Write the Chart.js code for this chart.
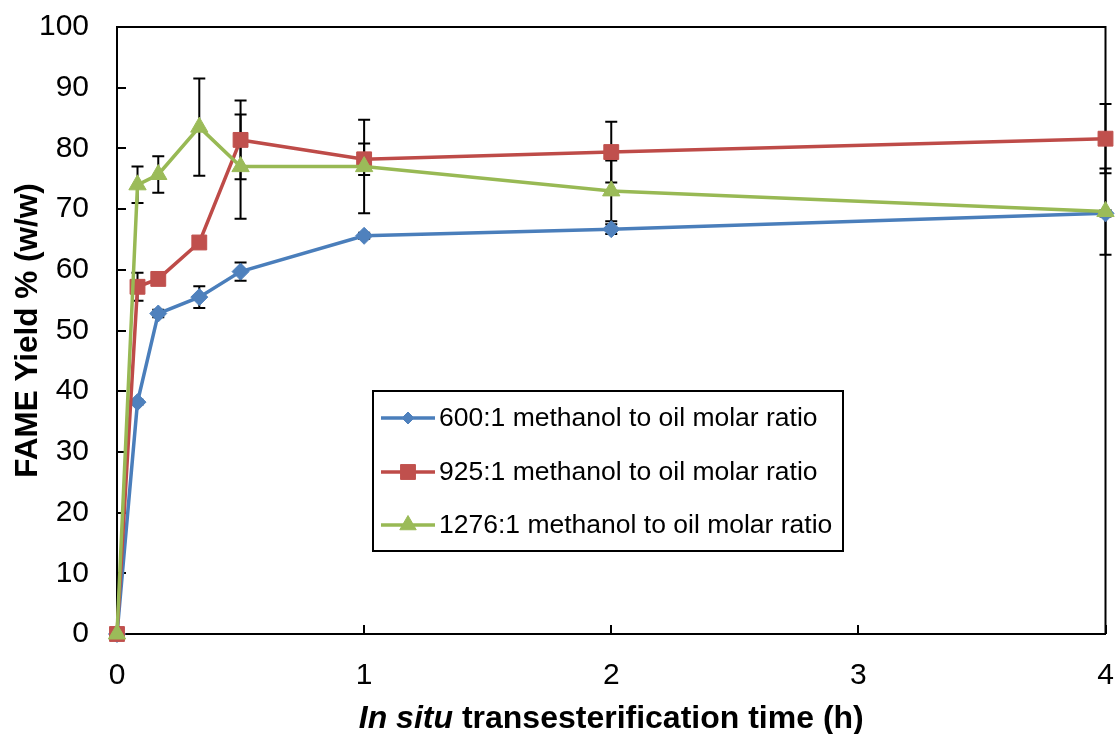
<!DOCTYPE html>
<html>
<head>
<meta charset="utf-8">
<script src="https://cdn.jsdelivr.net/npm/chart.js@4/dist/chart.umd.min.js"></script>
<style>
  html, body { margin: 0; padding: 0; background: #ffffff; }
  #wrap { width: 1117px; height: 734px; }
</style>
</head>
<body>
<div id="wrap"><canvas id="c" width="1117" height="734"></canvas></div>
<script>
// Reaction time (h) at which samples were taken
const timeHours = [0, 0.083, 0.167, 0.333, 0.5, 1, 2, 4];

// Series names
const seriesNames = [
  '600:1 methanol to oil molar ratio',
  '925:1 methanol to oil molar ratio',
  '1276:1 methanol to oil molar ratio'
];

// FAME yield % (w/w) and standard deviations for each molar ratio
const yield600  = [0, 38.2, 52.8, 55.5, 59.7, 65.6, 66.7, 69.3];
const err600    = [0, 0.4, 0.6, 1.8, 1.5, 0.5, 0.8, 0.5];
const yield925  = [0, 57.2, 58.5, 64.5, 81.4, 78.2, 79.4, 81.6];
const err925    = [0, 2.3, 0.8, 0.9, 6.5, 2.6, 5.0, 5.7];
const yield1276 = [0, 74.0, 75.7, 83.5, 77.0, 77.0, 73.0, 69.6];
const err1276   = [0, 3.0, 3.0, 8.0, 8.6, 7.7, 5.0, 7.1];

// Axis tick values
const xTicks = [0, 1, 2, 3, 4];
const yTicks = [0, 10, 20, 30, 40, 50, 60, 70, 80, 90, 100];

const FONT = '"Liberation Sans", Arial, sans-serif';

const seriesStyle = [
  { line: '#4A7EBB', fill: '#4F81BD', point: 'rectRot',  radius: 8.5 },
  { line: '#BE4B48', fill: '#C0504D', point: 'rect',     radius: 10.5 },
  { line: '#98B954', fill: '#9BBB59', point: 'triangle', radius: 10 }
];
const seriesValues = [yield600, yield925, yield1276];
const seriesErrors = [err600, err925, err1276];

const datasets = seriesValues.map((vals, i) => ({
  label: seriesNames[i],
  data: timeHours.map((t, j) => ({ x: t, y: vals[j] })),
  errors: seriesErrors[i],
  borderColor: seriesStyle[i].line,
  backgroundColor: seriesStyle[i].fill,
  pointBackgroundColor: seriesStyle[i].fill,
  pointBorderColor: seriesStyle[i].fill,
  pointBorderWidth: 1,
  pointStyle: seriesStyle[i].point,
  pointRadius: seriesStyle[i].radius,
  borderWidth: 3.5,
  tension: 0,
  clip: false,
  order: 2 - i
}));

// Vertical error bars with caps, drawn beneath the series
const errorBars = {
  id: 'errorBars',
  beforeDatasetsDraw(chart) {
    const { ctx, scales: { x, y } } = chart;
    ctx.save();
    ctx.strokeStyle = '#000000';
    ctx.lineWidth = 2;
    const cap = 6;
    chart.data.datasets.forEach(ds => {
      ds.data.forEach((p, j) => {
        const e = ds.errors[j];
        if (!e) return;
        const px = x.getPixelForValue(p.x);
        const top = y.getPixelForValue(p.y + e);
        const bot = y.getPixelForValue(p.y - e);
        ctx.beginPath();
        ctx.moveTo(px, top); ctx.lineTo(px, bot);
        ctx.moveTo(px - cap, top); ctx.lineTo(px + cap, top);
        ctx.moveTo(px - cap, bot); ctx.lineTo(px + cap, bot);
        ctx.stroke();
      });
    });
    ctx.restore();
  }
};

// Plot frame (top and right edges) and inward tick marks
const frameTicks = {
  id: 'frameTicks',
  beforeDatasetsDraw(chart) {
    const { ctx, chartArea: a, scales: { x, y } } = chart;
    ctx.save();
    ctx.strokeStyle = '#000000';
    ctx.lineWidth = 2;
    ctx.beginPath();
    ctx.moveTo(a.left, a.top); ctx.lineTo(a.right, a.top); ctx.lineTo(a.right, a.bottom);
    const tl = 9;
    yTicks.forEach(v => {
      const py = Math.round(y.getPixelForValue(v));
      ctx.moveTo(a.left, py); ctx.lineTo(a.left + tl, py);
    });
    xTicks.forEach(v => {
      const px = Math.round(x.getPixelForValue(v));
      ctx.moveTo(px, a.bottom); ctx.lineTo(px, a.bottom - tl);
    });
    ctx.stroke();
    ctx.restore();
  }
};

function drawMarker(ctx, style, cx, cy, r) {
  ctx.beginPath();
  if (style === 'rectRot') {
    ctx.moveTo(cx - r, cy); ctx.lineTo(cx, cy - r); ctx.lineTo(cx + r, cy); ctx.lineTo(cx, cy + r);
  } else if (style === 'rect') {
    const s = r * Math.SQRT1_2;
    ctx.rect(cx - s, cy - s, 2 * s, 2 * s);
  } else {
    ctx.moveTo(cx, cy - r);
    ctx.lineTo(cx + r * 0.866, cy + r * 0.5);
    ctx.lineTo(cx - r * 0.866, cy + r * 0.5);
  }
  ctx.closePath();
  ctx.fill();
  ctx.stroke();
}

// Boxed legend inside the plot area
const boxLegend = {
  id: 'boxLegend',
  afterDraw(chart) {
    const { ctx } = chart;
    const bx = 373, by = 391, bw = 470, bh = 160;
    ctx.save();
    ctx.fillStyle = '#ffffff';
    ctx.fillRect(bx, by, bw, bh);
    ctx.strokeStyle = '#000000';
    ctx.lineWidth = 2;
    ctx.strokeRect(bx, by, bw, bh);
    const rows = [418, 472, 525];
    const legendR = [6, 10.5, 9.5];
    ctx.font = '26.5px ' + FONT;
    ctx.textBaseline = 'middle';
    ctx.textAlign = 'left';
    chart.data.datasets.forEach((ds, i) => {
      const ry = rows[i];
      ctx.strokeStyle = ds.borderColor;
      ctx.lineWidth = 3.5;
      ctx.beginPath();
      ctx.moveTo(381, ry); ctx.lineTo(435, ry);
      ctx.stroke();
      ctx.fillStyle = ds.pointBackgroundColor;
      ctx.strokeStyle = ds.pointBorderColor;
      ctx.lineWidth = 1;
      drawMarker(ctx, ds.pointStyle, 408, ry, legendR[i]);
      ctx.fillStyle = '#000000';
      ctx.fillText(ds.label, 439, ry + 1);
    });
    ctx.restore();
  }
};

// X axis title with italic "In situ"
const xTitle = {
  id: 'xTitle',
  afterDraw(chart) {
    const { ctx, chartArea: a } = chart;
    const part1 = 'In situ';
    const part2 = ' transesterification time (h)';
    const f1 = 'italic bold 32px ' + FONT;
    const f2 = 'bold 32px ' + FONT;
    ctx.save();
    ctx.fillStyle = '#000000';
    ctx.textBaseline = 'alphabetic';
    ctx.font = f1; const w1 = ctx.measureText(part1).width;
    ctx.font = f2; const w2 = ctx.measureText(part2).width;
    const start = (a.left + a.right) / 2 - (w1 + w2) / 2;
    ctx.font = f1; ctx.fillText(part1, start, 728);
    ctx.font = f2; ctx.fillText(part2, start + w1, 728);
    ctx.restore();
  }
};

// Keep tick-label overhang from shrinking the plot area
function noOverhang(s) {
  s.paddingTop = 0; s.paddingBottom = 0; s.paddingLeft = 0; s.paddingRight = 0;
}

new Chart(document.getElementById('c'), {
  type: 'line',
  data: { datasets },
  options: {
    responsive: false,
    animation: false,
    layout: { padding: { top: 27, right: 11, left: 0, bottom: 0 } },
    plugins: { legend: { display: false }, tooltip: { enabled: false } },
    scales: {
      x: {
        type: 'linear',
        min: 0, max: 4,
        afterFit(s) { s.height = 100; noOverhang(s); },
        afterBuildTicks(s) { s.ticks = xTicks.map(v => ({ value: v })); },
        grid: { display: false, drawTicks: false },
        border: { display: true, color: '#000000', width: 2 },
        ticks: { color: '#000000', font: { family: FONT, size: 30 }, padding: 24, maxRotation: 0 }
      },
      y: {
        type: 'linear',
        min: 0, max: 100,
        afterFit(s) { s.width = 117; noOverhang(s); },
        afterBuildTicks(s) { s.ticks = yTicks.map(v => ({ value: v })); },
        grid: { display: false, drawTicks: false },
        border: { display: true, color: '#000000', width: 2 },
        ticks: { color: '#000000', font: { family: FONT, size: 30 }, padding: 28 },
        title: {
          display: true,
          text: 'FAME Yield % (w/w)',
          color: '#000000',
          font: { family: FONT, size: 31.5, weight: 'bold' },
          padding: { top: 9, bottom: 0 }
        }
      }
    }
  },
  plugins: [frameTicks, errorBars, boxLegend, xTitle]
});
</script>
</body>
</html>
